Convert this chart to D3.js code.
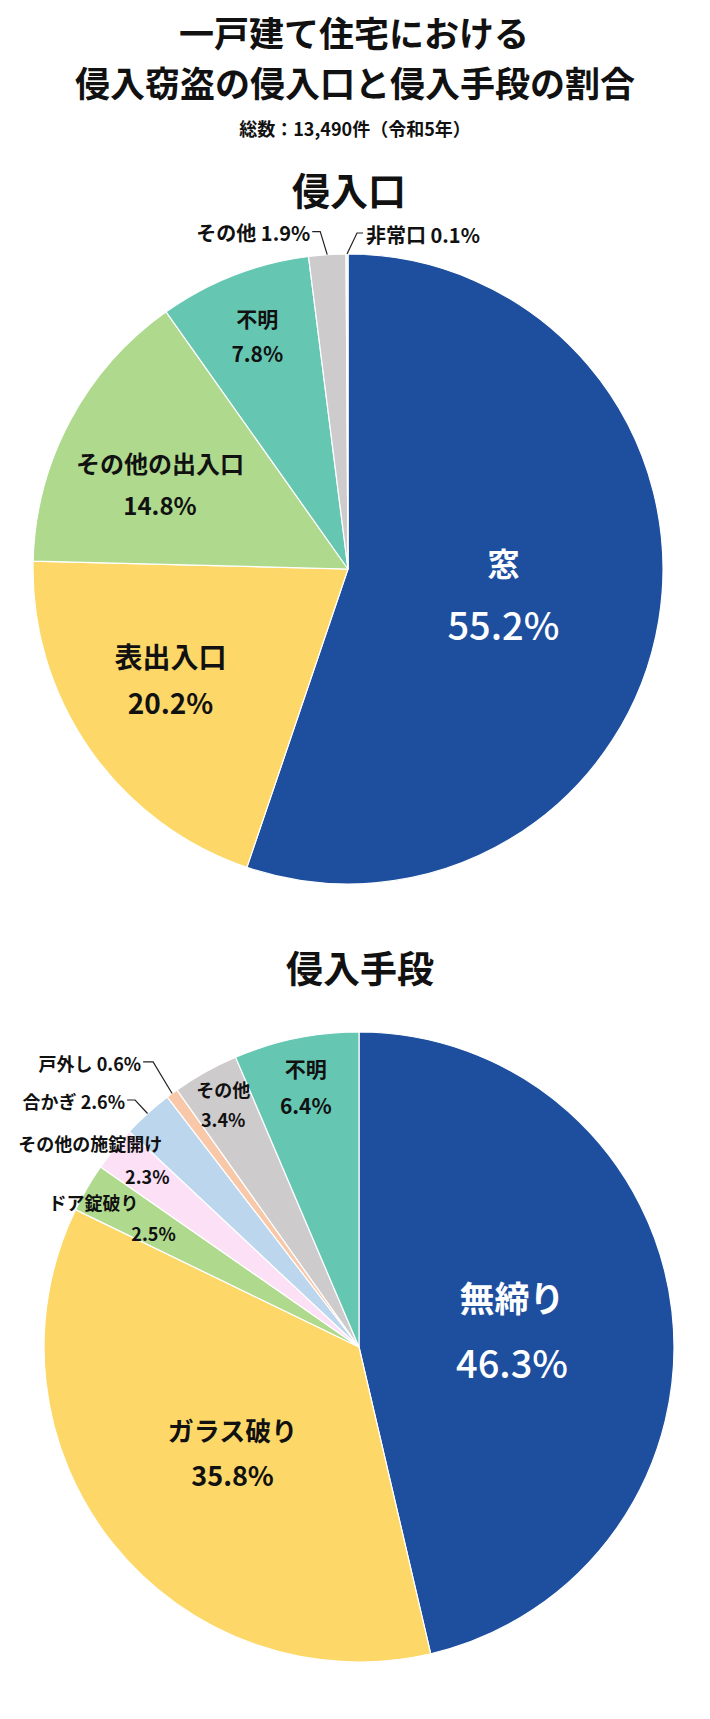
<!DOCTYPE html>
<html lang="ja">
<head>
<meta charset="utf-8">
<script src="https://cdn.jsdelivr.net/npm/d3@7/dist/d3.min.js"></script>
<style>
  html, body { margin: 0; padding: 0; background: #fff; }
  svg text { font-family: "Noto Sans CJK JP", "Noto Sans", sans-serif; font-weight: bold; fill: #111; }
</style>
</head>
<body>
<svg id="chart" width="710" height="1719"></svg>
<script>
// ---- Data ----
const titleLines = ["一戸建て住宅における", "侵入窃盗の侵入口と侵入手段の割合"];
const subtitle = "総数：13,490件（令和5年）";

const entryTitle = "侵入口";
const entryCategories = ["窓", "表出入口", "その他の出入口", "不明", "その他", "非常口"];
const entryValues = [55.2, 20.2, 14.8, 7.8, 1.9, 0.1];

const methodTitle = "侵入手段";
const methodCategories = ["無締り", "ガラス破り", "ドア錠破り", "その他の施錠開け", "合かぎ", "戸外し", "その他", "不明"];
const methodValues = [46.3, 35.8, 2.5, 2.3, 2.6, 0.6, 3.4, 6.4];

// ---- Styles / layout (not data) ----
const entryColors = ["#1e4f9f", "#fdd868", "#afda8e", "#65c7b2", "#cdcbcc", "#eeeeee"];
const methodColors = ["#1e4f9f", "#fdd868", "#afda8e", "#fbe0f6", "#bcd6ee", "#f8c8a8", "#cdcbcc", "#65c7b2"];

const entryLayout = {
  "窓":          {type: "in", k: 0.5,   dx: 0,  dy: -2, nameSize: 32, valSize: 38, gap: 61, fill: "#fff", valWeight: 500},
  "表出入口":     {type: "in", k: 0.664, dx: -6, dy: -10, nameSize: 28, valSize: 28, gap: 46},
  "その他の出入口": {type: "in", k: 0.655, dx: -6, dy: 12, nameSize: 24, valSize: 24, gap: 42},
  "不明":        {type: "in", k: 0.795, dx: 0,  dy: 0, nameSize: 21, valSize: 21, gap: 35},
  "その他":       {type: "out", ex: -7, ey: -23, hx: -15, size: 20, side: "left"},
  "非常口":       {type: "out", ex: 10, ey: -21, hx: 16, size: 20, side: "right"}
};
const methodLayout = {
  "無締り":         {type: "in", k: 0.489, dx: 0, dy: 0, nameSize: 35, valSize: 38, gap: 65, fill: "#fff", valWeight: 500},
  "ガラス破り":      {type: "in", k: 0.522, dx: 2, dy: 2, nameSize: 26, valSize: 27, gap: 45},
  "ドア錠破り":      {type: "in2", k: 0.745, dx: -3, dy: 5, nx: -60, ny: -31, size: 18},
  "その他の施錠開け": {type: "in2", k: 0.865, dx: 0, dy: 0, nx: -57, ny: -33, size: 18},
  "合かぎ":         {type: "out", ex: -12.5, ey: -13.5, hx: -20.5, size: 18, side: "left"},
  "戸外し":         {type: "out", ex: -19, ey: -31.5, hx: -29, size: 18, side: "left"},
  "その他":         {type: "in", k: 0.884, dx: 0, dy: 0, nameSize: 18, valSize: 18, gap: 30},
  "不明":          {type: "in", k: 0.845, dx: 0, dy: 0, nameSize: 21, valSize: 21, gap: 37}
};

const svg = d3.select("#chart");

// ---- Titles ----
svg.append("text").attr("x", 354).attr("y", 31).attr("text-anchor", "middle")
  .attr("dominant-baseline", "central").style("font-size", "35px").text(titleLines[0]);
svg.append("text").attr("x", 355).attr("y", 81).attr("text-anchor", "middle")
  .attr("dominant-baseline", "central").style("font-size", "35px").text(titleLines[1]);
svg.append("text").attr("x", 355).attr("y", 128).attr("text-anchor", "middle")
  .attr("dominant-baseline", "central").style("font-size", "18px").text(subtitle);

function drawPie(opts) {
  const {cx, cy, r, title, titleY, titleSize, categories, values, colors, layout} = opts;
  svg.append("text").attr("x", cx + 1).attr("y", titleY).attr("text-anchor", "middle")
    .attr("dominant-baseline", "central").style("font-size", titleSize + "px").text(title);

  const data = categories.map((c, i) => ({name: c, value: values[i], color: colors[i]}));
  const pie = d3.pie().sort(null).value(d => d.value);
  const arcs = pie(data);
  const arc = d3.arc().innerRadius(0).outerRadius(r);

  const g = svg.append("g").attr("transform", `translate(${cx},${cy})`);
  g.selectAll("path").data(arcs).join("path")
    .attr("d", arc)
    .attr("fill", d => d.data.color)
    .attr("stroke", "#fff")
    .attr("stroke-width", 1.2);

  const fmt = v => d3.format(".1f")(v) + "%";

  arcs.forEach(a => {
    const L = layout[a.data.name];
    const mid = (a.startAngle + a.endAngle) / 2;
    const ux = Math.sin(mid), uy = -Math.cos(mid);
    if (L.type === "in") {
      const x = ux * L.k * r + L.dx, y = uy * L.k * r + L.dy;
      const fill = L.fill || "#111";
      g.append("text").attr("x", x).attr("y", y - L.gap / 2).attr("text-anchor", "middle")
        .attr("dominant-baseline", "central").style("font-size", L.nameSize + "px").style("fill", fill)
        .text(a.data.name);
      g.append("text").attr("x", x).attr("y", y + L.gap / 2).attr("text-anchor", "middle")
        .attr("dominant-baseline", "central").style("font-size", L.valSize + "px").style("fill", fill)
        .style("font-weight", L.valWeight || "bold")
        .text(fmt(a.data.value));
    } else if (L.type === "in2") {
      const x = ux * L.k * r + L.dx, y = uy * L.k * r + L.dy;
      g.append("text").attr("x", x).attr("y", y).attr("text-anchor", "middle")
        .attr("dominant-baseline", "central").style("font-size", L.size + "px")
        .text(fmt(a.data.value));
      g.append("text").attr("x", x + L.nx).attr("y", y + L.ny).attr("text-anchor", "middle")
        .attr("dominant-baseline", "central").style("font-size", L.size + "px")
        .text(a.data.name);
    } else {
      const px = ux * r, py = uy * r;
      const ex = px + L.ex, ey = py + L.ey;
      const hx = px + L.hx;
      g.append("path")
        .attr("d", d3.line()([[px, py], [ex, ey], [hx, ey]]))
        .attr("fill", "none").attr("stroke", "#222").attr("stroke-width", 1.2);
      const tx = L.side === "left" ? hx - 2 : hx + 3;
      g.append("text").attr("x", tx).attr("y", ey + 1)
        .attr("text-anchor", L.side === "left" ? "end" : "start")
        .attr("dominant-baseline", "central").style("font-size", L.size + "px")
        .text(a.data.name + " " + fmt(a.data.value));
    }
  });
}

drawPie({cx: 348, cy: 569, r: 315, title: entryTitle, titleY: 188, titleSize: 38,
  categories: entryCategories, values: entryValues, colors: entryColors, layout: entryLayout});
drawPie({cx: 359, cy: 1347, r: 315, title: methodTitle, titleY: 967, titleSize: 37,
  categories: methodCategories, values: methodValues, colors: methodColors, layout: methodLayout});
</script>
</body>
</html>
